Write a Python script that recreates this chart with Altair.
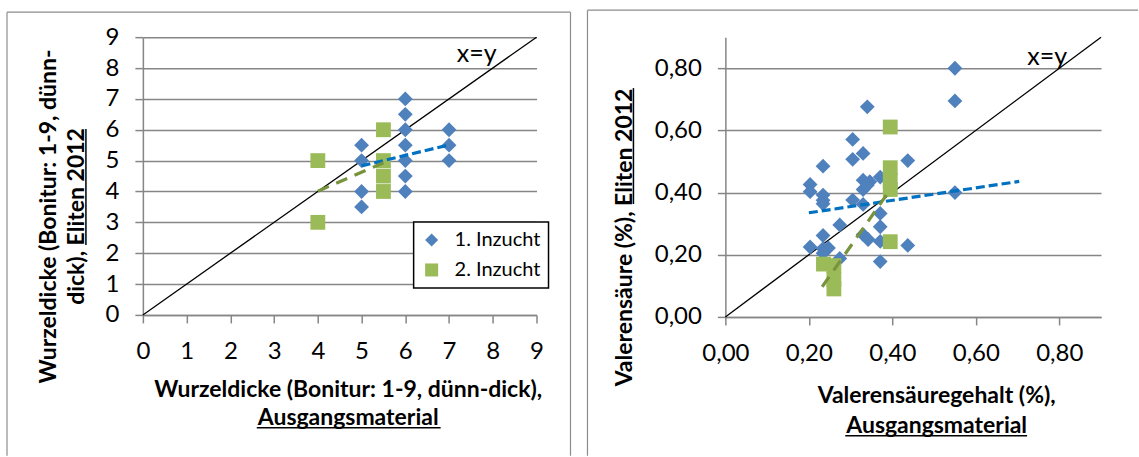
import altair as alt
import pandas as pd

S1 = "1. Inzucht"
S2 = "2. Inzucht"
BLUE, GREEN = "#4F81BD", "#9BBB59"
TBLUE, TGREEN = "#0070C0", "#77933C"
GRAY = "#868686"
FRAME = "#8C8C8C"
FONT = "Lato"

# ---------- left panel: Wurzeldicke ----------
wd_x1 = [5, 5, 5, 5, 6, 6, 6, 6, 6, 6, 6, 7, 7, 7]
wd_y1 = [5.5, 5, 4, 3.5, 7, 6.5, 6, 5.5, 5, 4.5, 4, 6, 5.5, 5]
wd_x2 = [4, 4, 5.5, 5.5, 5.5, 5.5]
wd_y2 = [5, 3, 6, 5, 4.5, 4]
wd_t1_x = [5, 7]
wd_t1_y = [4.83, 5.51]
wd_t2_x = [4, 5.5]
wd_t2_y = [4.01, 4.93]
wd_diag = [0, 9]
wd_ticks = [0, 1, 2, 3, 4, 5, 6, 7, 8, 9]
wd_lbl_x, wd_lbl_y = [7.63], [8.18]

# ---------- right panel: Valerensäure ----------
va_x1 = [0.55, 0.55, 0.55, 0.34, 0.305, 0.33, 0.305, 0.437, 0.234, 0.203,
         0.203, 0.234, 0.234, 0.234, 0.33, 0.346, 0.33, 0.371, 0.305, 0.33,
         0.371, 0.274, 0.234, 0.371, 0.33, 0.342, 0.371, 0.437, 0.203, 0.234,
         0.247, 0.234, 0.274, 0.371, 0.34]
va_y1 = [0.80, 0.695, 0.40, 0.676, 0.571, 0.526, 0.507, 0.503, 0.485, 0.426,
         0.403, 0.392, 0.375, 0.364, 0.44, 0.435, 0.41, 0.45, 0.376, 0.362,
         0.333, 0.296, 0.262, 0.29, 0.265, 0.249, 0.243, 0.23, 0.225, 0.22,
         0.222, 0.205, 0.188, 0.178, 0.424]
va_x2 = [0.395, 0.395, 0.395, 0.395, 0.395, 0.235, 0.26, 0.26, 0.26]
va_y2 = [0.611, 0.48, 0.44, 0.41, 0.242, 0.17, 0.165, 0.12, 0.09]
va_t1_x = [0.20, 0.704]
va_t1_y = [0.335, 0.436]
va_t2_x = [0.232, 0.39]
va_t2_y = [0.097, 0.40]
va_diag = [0, 0.9]
va_ticks = [0, 0.2, 0.4, 0.6, 0.8]
va_lbl_x, va_lbl_y = [0.771], [0.81]

one = pd.DataFrame({"a": [0]})


def hrule(x1, x2, y, color=FRAME, w=1.2):
    return alt.Chart(one).mark_rule(color=color, strokeWidth=w).encode(
        x=alt.value(x1), x2=alt.value(x2), y=alt.value(y))


def vrule(x, y1, y2, color=FRAME, w=1.2):
    return alt.Chart(one).mark_rule(color=color, strokeWidth=w).encode(
        x=alt.value(x), y=alt.value(y1), y2=alt.value(y2))


def panel(x1, y1, x2, y2, t1x, t1y, t2x, t2y, diag, lblx, lbly,
          xaxis, yaxis, legend, W, H, extras):
    pts = pd.DataFrame({"x": x1 + x2, "y": y1 + y2,
                        "serie": [S1] * len(x1) + [S2] * len(x2)})
    trend = pd.DataFrame({"x": t1x + t2x, "y": t1y + t2y,
                          "serie": [S1] * len(t1x) + [S2] * len(t2x)})
    dg = pd.DataFrame({"x": diag, "y": diag})
    lbl = pd.DataFrame({"x": lblx, "y": lbly, "t": ["x=y"]})
    dom = [diag[0], diag[-1]]
    X = alt.X("x:Q", scale=alt.Scale(domain=dom, nice=False, zero=False), axis=xaxis)
    Y = alt.Y("y:Q", scale=alt.Scale(domain=dom, nice=False, zero=False), axis=yaxis)

    diag_l = alt.Chart(dg).mark_line(color="black", strokeWidth=1.3).encode(x=X, y=Y)
    pts_l = alt.Chart(pts).mark_point(filled=True, size=220, opacity=1).encode(
        x=X, y=Y,
        color=alt.Color("serie:N", scale=alt.Scale(domain=[S1, S2], range=[BLUE, GREEN]), legend=legend),
        shape=alt.Shape("serie:N", scale=alt.Scale(domain=[S1, S2], range=["diamond", "square"]), legend=legend),
    )
    tr_l = alt.Chart(trend).mark_line(strokeWidth=3.2).encode(
        x=X, y=Y,
        stroke=alt.Stroke("serie:N", scale=alt.Scale(domain=[S1, S2], range=[TBLUE, TGREEN]), legend=None),
        strokeDash=alt.StrokeDash("serie:N", scale=alt.Scale(domain=[S1, S2], range=[[9, 4], [12, 8]]), legend=None),
    )
    txt = alt.Chart(lbl).mark_text(font=FONT, fontSize=25, align="center", baseline="alphabetic",
                                   color="black").encode(x=X, y=Y, text="t:N")
    return alt.layer(diag_l, pts_l, tr_l, txt, *extras).properties(width=W, height=H)


def legend_at(lx, ly):
    return alt.Legend(title=None, orient="none", legendX=lx, legendY=ly)


fmt = "replace(format(datum.value, '.2f'), '.', ',')"

left = panel(
    wd_x1, wd_y1, wd_x2, wd_y2, wd_t1_x, wd_t1_y, wd_t2_x, wd_t2_y, wd_diag,
    wd_lbl_x, wd_lbl_y,
    alt.Axis(values=wd_ticks, grid=False, tickSize=8, labelPadding=17, labelFlush=False,
             title=["Wurzeldicke (Bonitur: 1-9, dünn-dick),", "Ausgangsmaterial"],
             titleX=205, titleY=64, titleAlign="center", titleBaseline="top",
             titleLineHeight=28, titleAngle=0),
    alt.Axis(values=wd_ticks, grid=True, tickSize=8, labelPadding=16,
             title=["Wurzeldicke (Bonitur: 1-9, dünn-", "dick), Eliten 2012"],
             titleX=-105, titleY=179, titleAngle=270, titleAlign="center",
             titleBaseline="top", titleLineHeight=28),
    legend_at(271, 185), 394, 278,
    [
        vrule(-136, -25, 419), hrule(-136, 428, -25), vrule(428, -25, 419),
        hrule(114, 298, 391, "black", 1.5),      # underline "Ausgangsmaterial"
        vrule(-57, 92, 208, "black", 1.5),       # underline "Eliten 2012"
    ],
)

right = panel(
    va_x1, va_y1, va_x2, va_y2, va_t1_x, va_t1_y, va_t2_x, va_t2_y, va_diag,
    va_lbl_x, va_lbl_y,
    alt.Axis(values=va_ticks, grid=False, tickSize=8, labelPadding=17, labelExpr=fmt,
             labelFlush=False,
             title=["Valerensäuregehalt (%),", "Ausgangsmaterial"],
             titleX=211, titleY=68, titleAlign="center", titleBaseline="top",
             titleLineHeight=30, titleAngle=0),
    alt.Axis(values=va_ticks, grid=True, tickSize=8, labelPadding=16, labelExpr=fmt,
             title="Valerensäure (%), Eliten 2012",
             titleX=-112, titleY=200, titleAngle=270, titleAlign="center",
             titleBaseline="top"),
    legend_at(277, 186), 376, 280,
    [
        vrule(-138, -27, 419), hrule(-138, 413, -27),
        hrule(120, 302, 399, "black", 1.5),      # underline "Ausgangsmaterial"
        vrule(-92, 51, 167, "black", 1.5),       # underline "Eliten 2012"
    ],
)

chart = alt.hconcat(left, right, spacing=15).properties(
    padding={"left": 6, "top": 9, "right": 0, "bottom": 0},
    background="white",
).configure_view(strokeWidth=0).configure_axis(
    domainColor=GRAY, domainWidth=1.5, tickColor=GRAY, tickWidth=1.5,
    gridColor=GRAY, gridWidth=1.5, labelColor="black", titleColor="black",
    labelFont=FONT, labelFontSize=24, titleFont=FONT, titleFontSize=23,
    titleFontWeight="bold",
).configure_legend(
    strokeColor="black", strokeWidth=1.5, fillColor="white", padding=8,
    labelFont=FONT, labelFontSize=20, labelColor="black", rowPadding=10,
    symbolSize=170, labelOffset=13, symbolStrokeWidth=0,
)

chart.save("out.html", embed_options={"renderer": "svg", "actions": False})
